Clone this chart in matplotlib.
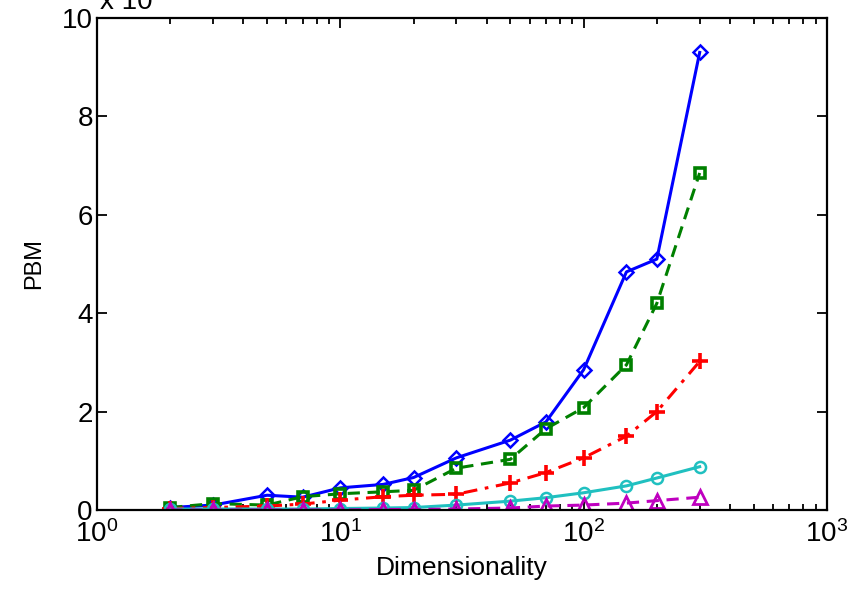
"""Recreate the PBM vs dimensionality chart."""

import matplotlib

matplotlib.use("Agg")
import matplotlib.pyplot as plt
from matplotlib.ticker import LogLocator, NullFormatter

plt.rcParams["font.family"] = ["Liberation Sans", "DejaVu Sans"]

dims = [2, 3, 5, 7, 10, 15, 20, 30, 50, 70, 100, 150, 200, 300]

pbm_blue = [0.05, 0.1, 0.3, 0.26, 0.45, 0.52, 0.66, 1.06, 1.42, 1.79, 2.85, 4.84, 5.1, 9.3]
pbm_green = [0.05, 0.13, 0.1, 0.27, 0.33, 0.37, 0.4, 0.85, 1.03, 1.65, 2.08, 2.95, 4.2, 6.85]
pbm_red = [0.03, 0.05, 0.08, 0.12, 0.2, 0.27, 0.3, 0.32, 0.55, 0.76, 1.06, 1.5, 2.0, 3.02]
pbm_cyan = [0.02, 0.02, 0.02, 0.02, 0.03, 0.04, 0.05, 0.1, 0.18, 0.25, 0.35, 0.49, 0.65, 0.88]
pbm_magenta = [0.0, 0.0, 0.0, 0.0, 0.0, 0.01, 0.01, 0.02, 0.04, 0.08, 0.1, 0.14, 0.19, 0.26]

fig = plt.figure(figsize=(8.56, 5.9), dpi=100)
ax = fig.add_axes([0.1133, 0.1356, 0.8527, 0.8339])

ax.plot(dims, pbm_blue, color="#0000ff", linestyle="-", linewidth=2.2,
        marker="D", markersize=7, markerfacecolor="none", markeredgewidth=1.8)
ax.plot(dims, pbm_green, color="#008000", linestyle=(0, (4, 2.5)), linewidth=2.2,
        marker="s", markersize=7, markerfacecolor="none", markeredgewidth=2.6)
ax.plot(dims, pbm_red, color="#ff0000", linestyle=(0, (4.5, 2.5, 1.2, 2.5)), linewidth=2.2,
        marker="+", markersize=11, markeredgewidth=2.6)
ax.plot(dims, pbm_cyan, color="#20c0c0", linestyle="-", linewidth=2.2,
        marker="o", markersize=8, markerfacecolor="none", markeredgewidth=1.8)
ax.plot(dims, pbm_magenta, color="#bf00bf", linestyle=(0, (4, 2.5)), linewidth=2.2,
        marker="^", markersize=9.5, markerfacecolor="none", markeredgewidth=2.0)

ax.set_xscale("log")
ax.set_xlim(1, 1000)
ax.set_ylim(0, 10)
ax.set_yticks([0, 2, 4, 6, 8, 10])
ax.xaxis.set_major_locator(LogLocator(base=10, numticks=5))
ax.xaxis.set_minor_locator(LogLocator(base=10, subs=range(2, 10), numticks=10))
ax.xaxis.set_minor_formatter(NullFormatter())

ax.tick_params(which="both", direction="in", top=True, right=True, labelsize=20, width=1.3)
ax.tick_params(which="major", length=7)
ax.tick_params(axis="x", which="major", pad=7)
ax.tick_params(axis="y", which="major", pad=3)
ax.tick_params(which="minor", length=4)
for spine in ax.spines.values():
    spine.set_linewidth(1.6)

ax.set_xlabel("Dimensionality", fontsize=19, labelpad=6)
ax.set_ylabel("PBM", fontsize=17, labelpad=12)

fig.text(0.117, 0.997, "x 10", fontsize=20, va="center", ha="left")

fig.savefig("out.png", dpi=100)
